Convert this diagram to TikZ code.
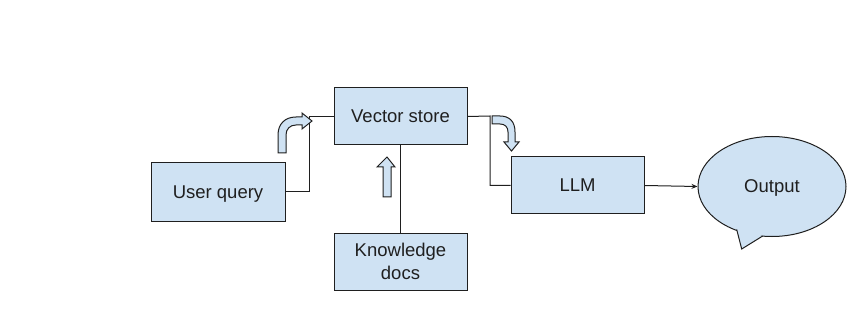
\documentclass[tikz,border=0pt]{standalone}
\usepackage{fontspec}
\setmainfont{Liberation Sans}
\usetikzlibrary{shapes.geometric,arrows.meta}
\definecolor{boxfill}{HTML}{CFE2F3}
\definecolor{ink}{HTML}{1F1F1F}
\tikzset{
  lbl/.style={font=\fontsize{18.5}{23}\selectfont, text=ink, text depth=0pt},
  box/.style={draw=ink, fill=boxfill, line width=1pt, minimum width=133pt, minimum height=57pt, inner sep=0pt, align=center, lbl},
  conn/.style={draw=ink, line width=1pt},
  blockarrow/.style={draw=ink, fill=boxfill, line width=1pt, line join=miter},
}
\begin{document}
\begin{tikzpicture}[x=1pt,y=-1pt]
\useasboundingbox (0,0) rectangle (852,334);
\node[box, minimum width=134pt, minimum height=58pt] (uq) at (218,192) {User query};
\node[box] (vs) at (400.5,116.5) {Vector store};
\node[box] (kd) at (400.5,261.5) {Knowledge\\docs};
\node[box] (llm) at (577.5,185.5) {LLM};
\node[ellipse, draw=ink, fill=boxfill, line width=1pt, minimum width=148pt, minimum height=100pt, inner sep=0pt] (out) at (772,186.5) {};
% speech bubble tail
\coordinate (t1) at (736.7,229.5);
\coordinate (tip) at (741.7,249);
\coordinate (t2) at (762.7,236);
\fill[boxfill] (t1) -- (tip) -- (t2) -- (750,231.5) -- cycle;
\draw[conn, line join=miter] (t1) -- (tip) -- (t2);
\node[lbl] at (out.center) {Output};
% connectors
\draw[conn] (uq.east) -- (309,192) |- (vs.west);
\draw[conn] (vs.east) -- (490,116) |- (llm.west);
\draw[conn] (kd.north) -- (vs.south);
\draw[conn, -{Stealth[length=6pt,width=5pt]}] (llm.east) -- (out.west);
% block arrows
\draw[blockarrow] (278,153) -- (278,135) .. controls (278,124) and (285,117) .. (296,117) -- (302,117) -- (302,113) -- (312,121) -- (302,129) -- (302,125) -- (296,125) .. controls (290,125) and (286,129) .. (286,135) -- (286,153) -- cycle;
\draw[blockarrow] (492,116) -- (500,116) .. controls (510,116) and (515,122) .. (515,132) -- (515,142) -- (519,142) -- (511.5,151) -- (504,142) -- (508,142) -- (508,132) .. controls (508,127) and (505,124) .. (500,124) -- (492,124) -- cycle;
\draw[blockarrow] (383,197) -- (383,167) -- (377,167) -- (387,157) -- (395,167) -- (391,167) -- (391,197) -- cycle;
\end{tikzpicture}
\end{document}
